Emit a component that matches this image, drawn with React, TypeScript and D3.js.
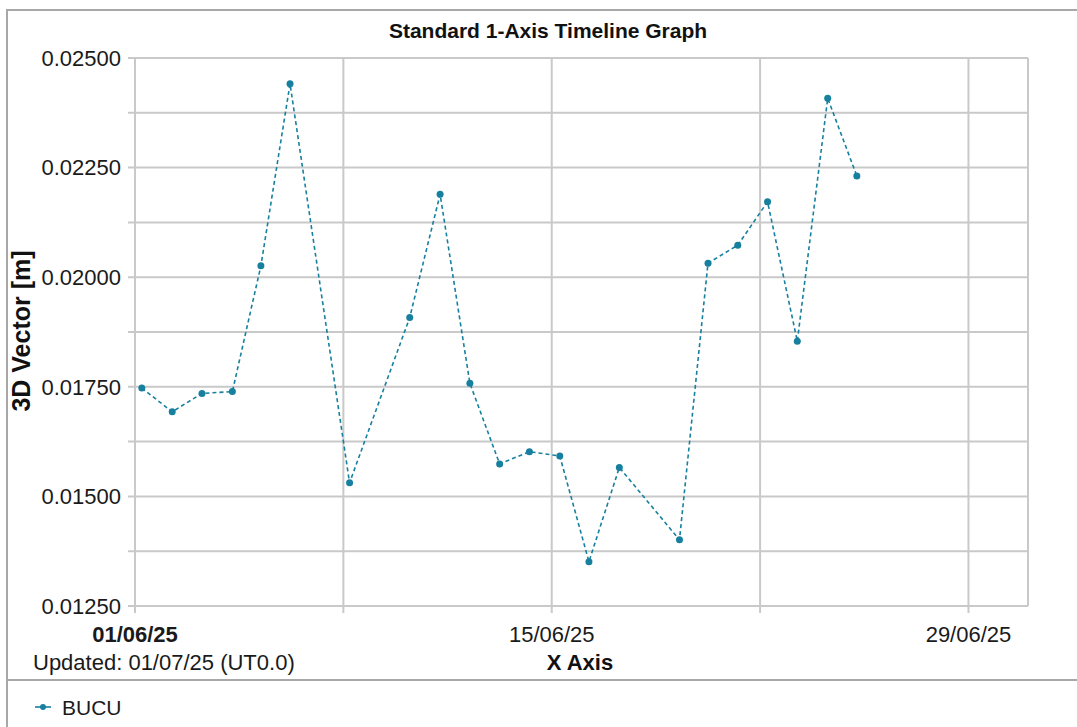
import { useEffect, useRef } from "react"
import * as d3 from "d3"

// observation times (UT) and 3D vector values
const dates = [
  "2025-06-01T05:30",
  "2025-06-02T06:00",
  "2025-06-03T06:00",
  "2025-06-04T06:30",
  "2025-06-05T05:30",
  "2025-06-06T05:00",
  "2025-06-08T05:00",
  "2025-06-10T05:30",
  "2025-06-11T06:00",
  "2025-06-12T06:00",
  "2025-06-13T06:00",
  "2025-06-14T06:00",
  "2025-06-15T06:30",
  "2025-06-16T06:00",
  "2025-06-17T06:30",
  "2025-06-19T07:00",
  "2025-06-20T06:00",
  "2025-06-21T06:00",
  "2025-06-22T06:00",
  "2025-06-23T06:00",
  "2025-06-24T06:30",
  "2025-06-25T06:00",
]
const values = [
  0.01747, 0.01693, 0.01735, 0.01739, 0.02026, 0.02441, 0.01531, 0.01908, 0.02189, 0.01758, 0.01574,
  0.01602, 0.01592, 0.01351, 0.01566, 0.01401, 0.02032, 0.02073, 0.02172, 0.01854, 0.02408, 0.02231,
]
const seriesName = "BUCU"
const yTicks = [0.0125, 0.015, 0.0175, 0.02, 0.0225, 0.025]
const yMinorTicks = [0.01375, 0.01625, 0.01875, 0.02125, 0.02375]
const xTicks = ["2025-06-01", "2025-06-08", "2025-06-15", "2025-06-22", "2025-06-29"]
const xLabels = ["01/06/25", "", "15/06/25", "", "29/06/25"]
const xDomain = ["2025-06-01", "2025-07-01"]

const W = 1077
const H = 727
const FONT = "'Liberation Sans', Arial, sans-serif"
const LINE = "#17809f"
const GRID = "#c9c9c9"

export default function App() {
  const svgRef = useRef<SVGSVGElement>(null)

  useEffect(() => {
    if (!svgRef.current) return
    const svg = d3.select(svgRef.current)
    svg.selectAll("*").remove()

    const margin = { top: 58, right: 49, bottom: 121, left: 135 }
    const innerWidth = W - margin.left - margin.right
    const innerHeight = H - margin.top - margin.bottom

    const parse = d3.timeParse("%Y-%m-%dT%H:%M")
    const parseDay = d3.timeParse("%Y-%m-%d")
    const data = dates.map((d, i) => ({ date: parse(d) as Date, value: values[i] }))

    const x = d3
      .scaleTime()
      .domain(xDomain.map((d) => parseDay(d) as Date))
      .range([0, innerWidth])
    const y = d3.scaleLinear().domain([0.0125, 0.025]).range([innerHeight, 0])

    // outer frame + legend separator
    svg
      .append("rect")
      .attr("x", 7)
      .attr("y", 10)
      .attr("width", W + 20)
      .attr("height", H + 20)
      .attr("fill", "#fff")
      .attr("stroke", "#a8a8a8")
      .attr("stroke-width", 2)
    svg.append("line").attr("x1", 7).attr("x2", W).attr("y1", 680).attr("y2", 680).attr("stroke", "#a8a8a8").attr("stroke-width", 2)

    svg
      .append("text")
      .attr("x", 548)
      .attr("y", 38)
      .attr("text-anchor", "middle")
      .attr("font-family", FONT)
      .attr("font-weight", "bold")
      .attr("font-size", 21)
      .attr("fill", "#111")
      .text("Standard 1-Axis Timeline Graph")

    const g = svg.append("g").attr("transform", `translate(${margin.left},${margin.top})`)

    // horizontal grid
    const allY = [...yTicks, ...yMinorTicks]
    g.selectAll(".hgrid")
      .data(allY)
      .join("line")
      .attr("x1", -7)
      .attr("x2", innerWidth)
      .attr("y1", (d) => y(d))
      .attr("y2", (d) => y(d))
      .attr("stroke", GRID)
      .attr("stroke-width", 2)

    // vertical grid
    const xt = xTicks.map((d) => parseDay(d) as Date)
    g.selectAll(".vgrid")
      .data(xt)
      .join("line")
      .attr("x1", (d) => x(d))
      .attr("x2", (d) => x(d))
      .attr("y1", 0)
      .attr("y2", innerHeight + 7)
      .attr("stroke", GRID)
      .attr("stroke-width", 2)
    g.append("line")
      .attr("x1", innerWidth)
      .attr("x2", innerWidth)
      .attr("y1", 0)
      .attr("y2", innerHeight)
      .attr("stroke", GRID)
      .attr("stroke-width", 2)

    // y labels
    g.selectAll(".ylab")
      .data(yTicks)
      .join("text")
      .attr("x", -14)
      .attr("y", (d) => y(d))
      .attr("dy", "0.35em")
      .attr("text-anchor", "end")
      .attr("font-family", FONT)
      .attr("font-size", 22)
      .attr("fill", "#1a1a1a")
      .text((d) => d3.format(".5f")(d))

    // x labels
    g.selectAll(".xlab")
      .data(xt)
      .join("text")
      .attr("x", (d) => x(d))
      .attr("y", innerHeight + 36)
      .attr("text-anchor", "middle")
      .attr("font-family", FONT)
      .attr("font-size", 22)
      .attr("font-weight", (_d, i) => (i === 0 ? "bold" : "normal"))
      .attr("fill", "#1a1a1a")
      .text((_d, i) => xLabels[i])

    svg
      .append("text")
      .attr("x", 33)
      .attr("y", 670)
      .attr("font-family", FONT)
      .attr("font-size", 22)
      .attr("fill", "#1a1a1a")
      .text("Updated: 01/07/25 (UT0.0)")

    svg
      .append("text")
      .attr("x", 580)
      .attr("y", 670)
      .attr("text-anchor", "middle")
      .attr("font-family", FONT)
      .attr("font-size", 22)
      .attr("font-weight", "bold")
      .attr("fill", "#111")
      .text("X Axis")

    svg
      .append("text")
      .attr("transform", "translate(30,331) rotate(-90)")
      .attr("text-anchor", "middle")
      .attr("font-family", FONT)
      .attr("font-size", 25)
      .attr("font-weight", "bold")
      .attr("fill", "#111")
      .text("3D Vector [m]")

    // series
    const line = d3
      .line<{ date: Date; value: number }>()
      .x((d) => x(d.date))
      .y((d) => y(d.value))

    g.append("path")
      .datum(data)
      .attr("fill", "none")
      .attr("stroke", LINE)
      .attr("stroke-width", 1.6)
      .attr("stroke-dasharray", "4,3")
      .attr("d", line)

    g.selectAll(".pt")
      .data(data)
      .join("circle")
      .attr("cx", (d) => x(d.date))
      .attr("cy", (d) => y(d.value))
      .attr("r", 3.5)
      .attr("fill", LINE)

    // legend
    const lg = svg.append("g").attr("transform", "translate(35,707)")
    lg.append("line").attr("x1", 0).attr("x2", 16).attr("stroke", LINE).attr("stroke-width", 1.6)
    lg.append("circle").attr("cx", 8).attr("r", 3).attr("fill", LINE)
    lg.append("text")
      .attr("x", 27)
      .attr("y", 8)
      .attr("font-family", FONT)
      .attr("font-size", 21)
      .attr("fill", "#1a1a1a")
      .text(seriesName)
  }, [])

  return (
    <svg
      ref={svgRef}
      width={W}
      height={H}
      style={{ position: "absolute", left: 0, top: 0, background: "#fff" }}
    />
  )
}
